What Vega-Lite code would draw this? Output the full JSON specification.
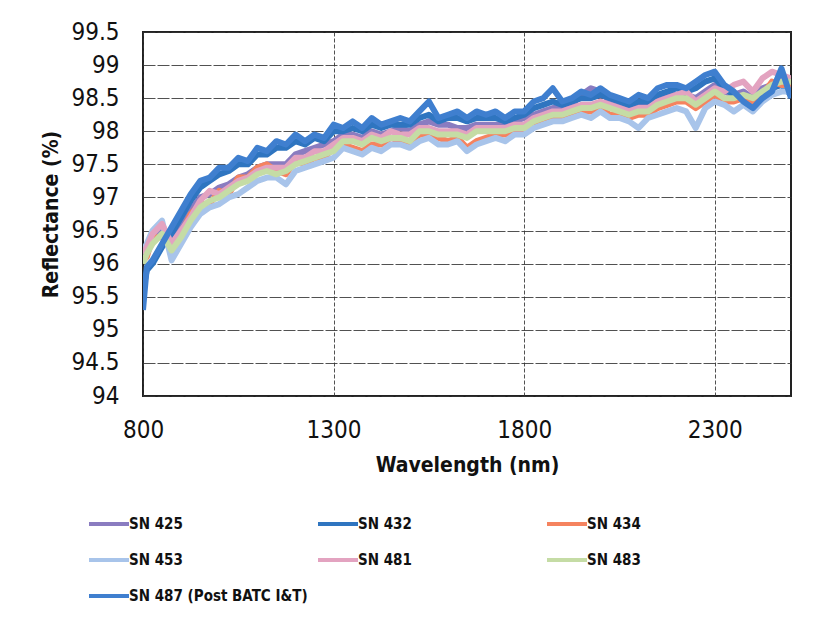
{
  "$schema": "https://vega.github.io/schema/vega-lite/v6.json",
  "width": 648,
  "height": 364,
  "autosize": {"type": "none"},
  "padding": {"left": 143, "top": 32, "right": 37, "bottom": 221},
  "background": "white",
  "config": {
    "view": {"stroke": "#222222", "strokeWidth": 2},
    "font": "DejaVu Sans Condensed, Liberation Sans Narrow, DejaVu Sans",
    "axis": {
      "domain": false,
      "ticks": false,
      "labelFont": "DejaVu Sans Condensed, Liberation Sans Narrow, DejaVu Sans",
      "labelFontSize": 24,
      "labelColor": "#111111",
      "titleFont": "DejaVu Sans Condensed, Liberation Sans Narrow, DejaVu Sans",
      "titleFontSize": 21,
      "titleFontWeight": "bold",
      "titleColor": "#111111",
      "gridColor": "#333333",
      "gridOpacity": 0.85,
      "gridWidth": 1
    },
    "legend": {
      "labelFont": "DejaVu Sans Condensed, Liberation Sans Narrow, DejaVu Sans",
      "labelFontSize": 15,
      "labelFontWeight": "bold",
      "labelColor": "#111111"
    }
  },
  "data": {
    "values": [
      {"w":800,"SN 487 (Post BATC I&T)":95.3,"SN 432":95.6,"SN 425":96.1,"SN 481":96.15,"SN 483":96.0,"SN 434":96.05,"SN 453":96.2},
      {"w":810,"SN 487 (Post BATC I&T)":95.95,"SN 432":95.9,"SN 425":96.2,"SN 481":96.25,"SN 483":96.15,"SN 434":96.1,"SN 453":96.3},
      {"w":825,"SN 487 (Post BATC I&T)":96.05,"SN 432":96.0,"SN 425":96.35,"SN 481":96.45,"SN 483":96.3,"SN 434":96.4,"SN 453":96.5},
      {"w":850,"SN 487 (Post BATC I&T)":96.3,"SN 432":96.25,"SN 425":96.5,"SN 481":96.6,"SN 483":96.45,"SN 434":96.4,"SN 453":96.65},
      {"w":875,"SN 487 (Post BATC I&T)":96.55,"SN 432":96.45,"SN 425":96.35,"SN 481":96.3,"SN 483":96.2,"SN 434":96.25,"SN 453":96.05},
      {"w":900,"SN 487 (Post BATC I&T)":96.8,"SN 432":96.7,"SN 425":96.55,"SN 481":96.5,"SN 483":96.4,"SN 434":96.45,"SN 453":96.3},
      {"w":925,"SN 487 (Post BATC I&T)":97.05,"SN 432":96.95,"SN 425":96.8,"SN 481":96.7,"SN 483":96.65,"SN 434":96.75,"SN 453":96.55},
      {"w":950,"SN 487 (Post BATC I&T)":97.25,"SN 432":97.15,"SN 425":97.0,"SN 481":96.95,"SN 483":96.85,"SN 434":96.9,"SN 453":96.75},
      {"w":975,"SN 487 (Post BATC I&T)":97.3,"SN 432":97.25,"SN 425":97.05,"SN 481":97.1,"SN 483":96.95,"SN 434":96.9,"SN 453":96.85},
      {"w":1000,"SN 487 (Post BATC I&T)":97.45,"SN 432":97.35,"SN 425":97.15,"SN 481":97.05,"SN 483":97.0,"SN 434":97.1,"SN 453":96.9},
      {"w":1025,"SN 487 (Post BATC I&T)":97.45,"SN 432":97.4,"SN 425":97.2,"SN 481":97.15,"SN 483":97.1,"SN 434":97.05,"SN 453":97.0},
      {"w":1050,"SN 487 (Post BATC I&T)":97.6,"SN 432":97.5,"SN 425":97.3,"SN 481":97.25,"SN 483":97.2,"SN 434":97.3,"SN 453":97.05},
      {"w":1075,"SN 487 (Post BATC I&T)":97.55,"SN 432":97.5,"SN 425":97.35,"SN 481":97.3,"SN 483":97.25,"SN 434":97.3,"SN 453":97.15},
      {"w":1100,"SN 487 (Post BATC I&T)":97.75,"SN 432":97.65,"SN 425":97.45,"SN 481":97.4,"SN 483":97.35,"SN 434":97.45,"SN 453":97.25},
      {"w":1125,"SN 487 (Post BATC I&T)":97.7,"SN 432":97.65,"SN 425":97.5,"SN 481":97.45,"SN 483":97.4,"SN 434":97.5,"SN 453":97.3},
      {"w":1150,"SN 487 (Post BATC I&T)":97.85,"SN 432":97.75,"SN 425":97.5,"SN 481":97.45,"SN 483":97.35,"SN 434":97.4,"SN 453":97.3},
      {"w":1175,"SN 487 (Post BATC I&T)":97.8,"SN 432":97.75,"SN 425":97.5,"SN 481":97.45,"SN 483":97.4,"SN 434":97.35,"SN 453":97.2},
      {"w":1200,"SN 487 (Post BATC I&T)":97.95,"SN 432":97.85,"SN 425":97.65,"SN 481":97.6,"SN 483":97.5,"SN 434":97.55,"SN 453":97.4},
      {"w":1225,"SN 487 (Post BATC I&T)":97.85,"SN 432":97.8,"SN 425":97.7,"SN 481":97.6,"SN 483":97.55,"SN 434":97.5,"SN 453":97.45},
      {"w":1250,"SN 487 (Post BATC I&T)":97.95,"SN 432":97.9,"SN 425":97.75,"SN 481":97.7,"SN 483":97.6,"SN 434":97.6,"SN 453":97.5},
      {"w":1275,"SN 487 (Post BATC I&T)":97.9,"SN 432":97.85,"SN 425":97.8,"SN 481":97.7,"SN 483":97.65,"SN 434":97.6,"SN 453":97.55},
      {"w":1300,"SN 487 (Post BATC I&T)":98.1,"SN 432":98.0,"SN 425":97.85,"SN 481":97.8,"SN 483":97.7,"SN 434":97.75,"SN 453":97.6},
      {"w":1325,"SN 487 (Post BATC I&T)":98.05,"SN 432":98.0,"SN 425":97.95,"SN 481":97.9,"SN 483":97.85,"SN 434":97.8,"SN 453":97.75},
      {"w":1350,"SN 487 (Post BATC I&T)":98.15,"SN 432":98.05,"SN 425":97.95,"SN 481":97.9,"SN 483":97.85,"SN 434":97.75,"SN 453":97.7},
      {"w":1375,"SN 487 (Post BATC I&T)":98.05,"SN 432":98.0,"SN 425":97.9,"SN 481":97.85,"SN 483":97.8,"SN 434":97.7,"SN 453":97.65},
      {"w":1400,"SN 487 (Post BATC I&T)":98.2,"SN 432":98.1,"SN 425":98.0,"SN 481":97.95,"SN 483":97.9,"SN 434":97.8,"SN 453":97.75},
      {"w":1425,"SN 487 (Post BATC I&T)":98.1,"SN 432":98.05,"SN 425":97.95,"SN 481":97.9,"SN 483":97.85,"SN 434":97.8,"SN 453":97.7},
      {"w":1450,"SN 487 (Post BATC I&T)":98.15,"SN 432":98.1,"SN 425":98.0,"SN 481":98.0,"SN 483":97.9,"SN 434":97.9,"SN 453":97.8},
      {"w":1475,"SN 487 (Post BATC I&T)":98.2,"SN 432":98.1,"SN 425":98.05,"SN 481":97.95,"SN 483":97.9,"SN 434":97.85,"SN 453":97.8},
      {"w":1500,"SN 487 (Post BATC I&T)":98.15,"SN 432":98.1,"SN 425":98.0,"SN 481":97.95,"SN 483":97.85,"SN 434":97.8,"SN 453":97.75},
      {"w":1525,"SN 487 (Post BATC I&T)":98.3,"SN 432":98.2,"SN 425":98.1,"SN 481":98.05,"SN 483":98.0,"SN 434":97.95,"SN 453":97.85},
      {"w":1550,"SN 487 (Post BATC I&T)":98.45,"SN 432":98.25,"SN 425":98.15,"SN 481":98.05,"SN 483":98.0,"SN 434":97.95,"SN 453":97.9},
      {"w":1575,"SN 487 (Post BATC I&T)":98.2,"SN 432":98.15,"SN 425":98.1,"SN 481":98.0,"SN 483":97.95,"SN 434":97.9,"SN 453":97.8},
      {"w":1600,"SN 487 (Post BATC I&T)":98.25,"SN 432":98.2,"SN 425":98.1,"SN 481":98.0,"SN 483":97.95,"SN 434":97.85,"SN 453":97.8},
      {"w":1625,"SN 487 (Post BATC I&T)":98.3,"SN 432":98.2,"SN 425":98.05,"SN 481":98.0,"SN 483":97.95,"SN 434":97.9,"SN 453":97.85},
      {"w":1650,"SN 487 (Post BATC I&T)":98.2,"SN 432":98.15,"SN 425":98.05,"SN 481":97.95,"SN 483":97.9,"SN 434":97.75,"SN 453":97.7},
      {"w":1675,"SN 487 (Post BATC I&T)":98.3,"SN 432":98.2,"SN 425":98.1,"SN 481":98.05,"SN 483":98.0,"SN 434":97.85,"SN 453":97.8},
      {"w":1700,"SN 487 (Post BATC I&T)":98.25,"SN 432":98.2,"SN 425":98.1,"SN 481":98.05,"SN 483":98.0,"SN 434":97.9,"SN 453":97.85},
      {"w":1725,"SN 487 (Post BATC I&T)":98.3,"SN 432":98.2,"SN 425":98.1,"SN 481":98.05,"SN 483":98.0,"SN 434":97.95,"SN 453":97.9},
      {"w":1750,"SN 487 (Post BATC I&T)":98.2,"SN 432":98.15,"SN 425":98.1,"SN 481":98.05,"SN 483":98.0,"SN 434":97.95,"SN 453":97.85},
      {"w":1775,"SN 487 (Post BATC I&T)":98.3,"SN 432":98.2,"SN 425":98.15,"SN 481":98.1,"SN 483":98.05,"SN 434":98.0,"SN 453":97.95},
      {"w":1800,"SN 487 (Post BATC I&T)":98.3,"SN 432":98.25,"SN 425":98.2,"SN 481":98.1,"SN 483":98.05,"SN 434":98.0,"SN 453":97.95},
      {"w":1825,"SN 487 (Post BATC I&T)":98.45,"SN 432":98.35,"SN 425":98.25,"SN 481":98.2,"SN 483":98.15,"SN 434":98.1,"SN 453":98.05},
      {"w":1850,"SN 487 (Post BATC I&T)":98.5,"SN 432":98.4,"SN 425":98.3,"SN 481":98.25,"SN 483":98.2,"SN 434":98.15,"SN 453":98.1},
      {"w":1875,"SN 487 (Post BATC I&T)":98.65,"SN 432":98.45,"SN 425":98.35,"SN 481":98.3,"SN 483":98.25,"SN 434":98.2,"SN 453":98.15},
      {"w":1900,"SN 487 (Post BATC I&T)":98.45,"SN 432":98.4,"SN 425":98.35,"SN 481":98.3,"SN 483":98.25,"SN 434":98.2,"SN 453":98.15},
      {"w":1925,"SN 487 (Post BATC I&T)":98.5,"SN 432":98.45,"SN 425":98.4,"SN 481":98.35,"SN 483":98.3,"SN 434":98.25,"SN 453":98.2},
      {"w":1950,"SN 487 (Post BATC I&T)":98.6,"SN 432":98.5,"SN 425":98.55,"SN 481":98.4,"SN 483":98.35,"SN 434":98.3,"SN 453":98.25},
      {"w":1975,"SN 487 (Post BATC I&T)":98.55,"SN 432":98.5,"SN 425":98.65,"SN 481":98.4,"SN 483":98.35,"SN 434":98.3,"SN 453":98.2},
      {"w":2000,"SN 487 (Post BATC I&T)":98.65,"SN 432":98.55,"SN 425":98.6,"SN 481":98.45,"SN 483":98.4,"SN 434":98.35,"SN 453":98.3},
      {"w":2025,"SN 487 (Post BATC I&T)":98.55,"SN 432":98.5,"SN 425":98.45,"SN 481":98.4,"SN 483":98.35,"SN 434":98.25,"SN 453":98.2},
      {"w":2050,"SN 487 (Post BATC I&T)":98.5,"SN 432":98.45,"SN 425":98.4,"SN 481":98.35,"SN 483":98.3,"SN 434":98.25,"SN 453":98.2},
      {"w":2075,"SN 487 (Post BATC I&T)":98.45,"SN 432":98.4,"SN 425":98.35,"SN 481":98.3,"SN 483":98.25,"SN 434":98.2,"SN 453":98.15},
      {"w":2100,"SN 487 (Post BATC I&T)":98.55,"SN 432":98.45,"SN 425":98.4,"SN 481":98.35,"SN 483":98.3,"SN 434":98.25,"SN 453":98.05},
      {"w":2125,"SN 487 (Post BATC I&T)":98.5,"SN 432":98.45,"SN 425":98.4,"SN 481":98.35,"SN 483":98.3,"SN 434":98.25,"SN 453":98.2},
      {"w":2150,"SN 487 (Post BATC I&T)":98.65,"SN 432":98.55,"SN 425":98.5,"SN 481":98.45,"SN 483":98.4,"SN 434":98.35,"SN 453":98.25},
      {"w":2175,"SN 487 (Post BATC I&T)":98.7,"SN 432":98.6,"SN 425":98.55,"SN 481":98.5,"SN 483":98.45,"SN 434":98.4,"SN 453":98.3},
      {"w":2200,"SN 487 (Post BATC I&T)":98.7,"SN 432":98.65,"SN 425":98.55,"SN 481":98.55,"SN 483":98.5,"SN 434":98.45,"SN 453":98.35},
      {"w":2225,"SN 487 (Post BATC I&T)":98.65,"SN 432":98.6,"SN 425":98.55,"SN 481":98.6,"SN 483":98.5,"SN 434":98.45,"SN 453":98.3},
      {"w":2250,"SN 487 (Post BATC I&T)":98.75,"SN 432":98.65,"SN 425":98.5,"SN 481":98.45,"SN 483":98.4,"SN 434":98.35,"SN 453":98.05},
      {"w":2275,"SN 487 (Post BATC I&T)":98.85,"SN 432":98.75,"SN 425":98.6,"SN 481":98.55,"SN 483":98.5,"SN 434":98.45,"SN 453":98.35},
      {"w":2300,"SN 487 (Post BATC I&T)":98.9,"SN 432":98.8,"SN 425":98.7,"SN 481":98.65,"SN 483":98.6,"SN 434":98.55,"SN 453":98.45},
      {"w":2325,"SN 487 (Post BATC I&T)":98.7,"SN 432":98.65,"SN 425":98.6,"SN 481":98.6,"SN 483":98.5,"SN 434":98.45,"SN 453":98.4},
      {"w":2350,"SN 487 (Post BATC I&T)":98.6,"SN 432":98.55,"SN 425":98.55,"SN 481":98.7,"SN 483":98.5,"SN 434":98.45,"SN 453":98.3},
      {"w":2375,"SN 487 (Post BATC I&T)":98.45,"SN 432":98.5,"SN 425":98.6,"SN 481":98.75,"SN 483":98.55,"SN 434":98.5,"SN 453":98.4},
      {"w":2400,"SN 487 (Post BATC I&T)":98.35,"SN 432":98.45,"SN 425":98.5,"SN 481":98.6,"SN 483":98.5,"SN 434":98.45,"SN 453":98.3},
      {"w":2425,"SN 487 (Post BATC I&T)":98.5,"SN 432":98.55,"SN 425":98.65,"SN 481":98.8,"SN 483":98.6,"SN 434":98.55,"SN 453":98.45},
      {"w":2450,"SN 487 (Post BATC I&T)":98.6,"SN 432":98.65,"SN 425":98.7,"SN 481":98.9,"SN 483":98.7,"SN 434":98.75,"SN 453":98.55},
      {"w":2475,"SN 487 (Post BATC I&T)":98.95,"SN 432":98.7,"SN 425":98.8,"SN 481":98.85,"SN 483":98.75,"SN 434":98.7,"SN 453":98.6},
      {"w":2500,"SN 487 (Post BATC I&T)":98.5,"SN 432":98.55,"SN 425":98.7,"SN 481":98.8,"SN 483":98.75,"SN 434":98.7,"SN 453":98.6}
    ]
  },
  "transform": [
    {"fold": ["SN 425", "SN 432", "SN 434", "SN 453", "SN 481", "SN 483", "SN 487 (Post BATC I&T)"], "as": ["series", "r"]}
  ],
  "mark": {"type": "line", "strokeWidth": 6, "strokeJoin": "round", "clip": true},
  "encoding": {
    "x": {
      "field": "w", "type": "quantitative",
      "scale": {"domain": [800, 2500], "nice": false, "zero": false},
      "axis": {"values": [800, 1300, 1800, 2300], "format": "d", "title": "Wavelength (nm)", "labelPadding": 22, "titlePadding": 12, "grid": true, "gridDash": [4, 2], "labelFlush": false}
    },
    "y": {
      "field": "r", "type": "quantitative",
      "scale": {"domain": [94, 99.5], "nice": false, "zero": false},
      "axis": {"values": [94, 94.5, 95, 95.5, 96, 96.5, 97, 97.5, 98, 98.5, 99, 99.5], "format": "~g", "title": "Reflectance (%)", "labelPadding": 24, "titlePadding": 9, "grid": true, "gridDash": [12, 2]}
    },
    "color": {
      "field": "series", "type": "nominal",
      "scale": {
        "domain": ["SN 425", "SN 432", "SN 434", "SN 453", "SN 481", "SN 483", "SN 487 (Post BATC I&T)"],
        "range": ["#8a7cc0", "#2f75c0", "#f5835f", "#a8c4ea", "#e3a3c0", "#c5dca5", "#3f7fcf"]
      },
      "legend": {
        "title": null,
        "orient": "none",
        "legendX": -56,
        "legendY": 470,
        "direction": "horizontal",
        "columns": 3,
        "gridAlign": "all",
        "columnPadding": 2,
        "rowPadding": 6,
        "symbolType": "stroke",
        "symbolSize": 1600,
        "symbolStrokeWidth": 4,
        "labelOffset": -2,
        "labelLimit": 300,
        "padding": 0
      }
    }
  }
}
